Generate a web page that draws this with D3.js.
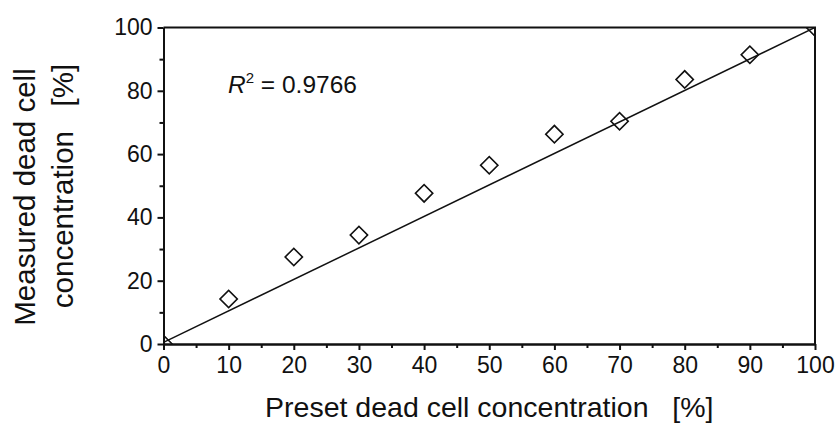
<!DOCTYPE html>
<html>
<head>
<script src="https://cdn.jsdelivr.net/npm/d3@7"></script>
<style>
  body { margin: 0; background: #fff; }
  text { font-family: "Liberation Sans", Arial, sans-serif; fill: #111; }
</style>
</head>
<body>
<script>
var w = 837, h = 426;
var margin = {top: 27.5, right: 22, bottom: 82, left: 163.5};

// data
var presetConc = [0, 10, 20, 30, 40, 50, 60, 70, 80, 90, 100];
var measuredConc = [0, 14.2, 27.5, 34.4, 47.6, 56.5, 66.3, 70.4, 83.6, 91.4, 100];
var fitX = [0, 100];
var fitY = [0.5, 100];
var xTicks = [0, 10, 20, 30, 40, 50, 60, 70, 80, 90, 100];
var yTicks = [0, 20, 40, 60, 80, 100];

var svg = d3.select("body").append("svg")
  .attr("width", w)
  .attr("height", h);

var x = d3.scaleLinear().domain([0, 100]).range([margin.left, w - margin.right]);
var y = d3.scaleLinear().domain([0, 100]).range([h - margin.bottom, margin.top]);

svg.append("clipPath").attr("id", "plot")
  .append("rect")
  .attr("x", x(0)).attr("y", y(100))
  .attr("width", x(100) - x(0)).attr("height", y(0) - y(100));

var plot = svg.append("g").attr("clip-path", "url(#plot)");

// fit line
var line = d3.line()
  .x(function (d) { return x(d[0]); })
  .y(function (d) { return y(d[1]); });

plot.append("path")
  .datum(d3.zip(fitX, fitY))
  .attr("d", line)
  .attr("fill", "none")
  .attr("stroke", "#111")
  .attr("stroke-width", 1.5);

// diamond markers
var sym = d3.symbol().type(d3.symbolSquare).size(150);
plot.selectAll(".pt")
  .data(d3.zip(presetConc, measuredConc))
  .enter().append("path")
  .attr("class", "pt")
  .attr("d", sym)
  .attr("transform", function (d) {
    return "translate(" + x(d[0]) + "," + y(d[1]) + ") rotate(45)";
  })
  .attr("fill", "none")
  .attr("stroke", "#111")
  .attr("stroke-width", 1.6);

// axes
var xAxis = d3.axisBottom(x).tickValues(xTicks).tickSize(6).tickPadding(7).tickSizeOuter(0);
var xMinor = d3.axisBottom(x).tickValues(d3.range(5, 100, 10)).tickSize(4).tickFormat("").tickSizeOuter(0);
var yAxis = d3.axisLeft(y).tickValues(yTicks).tickSize(6).tickPadding(5).tickSizeOuter(0);
var yMinor = d3.axisLeft(y).tickValues(d3.range(10, 100, 20)).tickSize(4).tickFormat("").tickSizeOuter(0);

function styleAxis(g) {
  g.attr("font-size", 23).attr("font-family", "Liberation Sans, Arial, sans-serif");
  g.selectAll("path, line").attr("stroke", "#111").attr("stroke-width", 2);
  g.selectAll("text").attr("fill", "#111");
}

svg.append("g").attr("transform", "translate(0," + y(0) + ")").call(xMinor).call(styleAxis);
svg.append("g").attr("transform", "translate(0," + y(0) + ")").call(xAxis).call(styleAxis);
svg.append("g").attr("transform", "translate(" + x(0) + ",0)").call(yMinor).call(styleAxis);
svg.append("g").attr("transform", "translate(" + x(0) + ",0)").call(yAxis).call(styleAxis);

// top and right frame
svg.append("path")
  .attr("d", "M" + x(0) + "," + y(100) + "H" + x(100) + "V" + y(0))
  .attr("fill", "none")
  .attr("stroke", "#111")
  .attr("stroke-width", 2);

// R^2 annotation
var r2 = svg.append("text")
  .attr("x", 228)
  .attr("y", 93)
  .attr("font-size", 24.5);
r2.append("tspan").attr("font-style", "italic").text("R");
r2.append("tspan").attr("font-size", 15).attr("dy", -10).text("2");
r2.append("tspan").attr("dy", 10).text(" = 0.9766");

// axis titles
svg.append("text")
  .attr("x", (x(0) + x(100)) / 2)
  .attr("y", 417)
  .attr("text-anchor", "middle")
  .attr("font-size", 28.5)
  .attr("xml:space", "preserve")
  .text("Preset dead cell concentration   [%]");

svg.append("text")
  .attr("transform", "translate(35,197) rotate(-90)")
  .attr("text-anchor", "middle")
  .attr("font-size", 29.5)
  .text("Measured dead cell");

svg.append("text")
  .attr("transform", "translate(73,186) rotate(-90)")
  .attr("text-anchor", "middle")
  .attr("font-size", 29.5)
  .attr("xml:space", "preserve")
  .text("concentration   [%]");
</script>
</body>
</html>
